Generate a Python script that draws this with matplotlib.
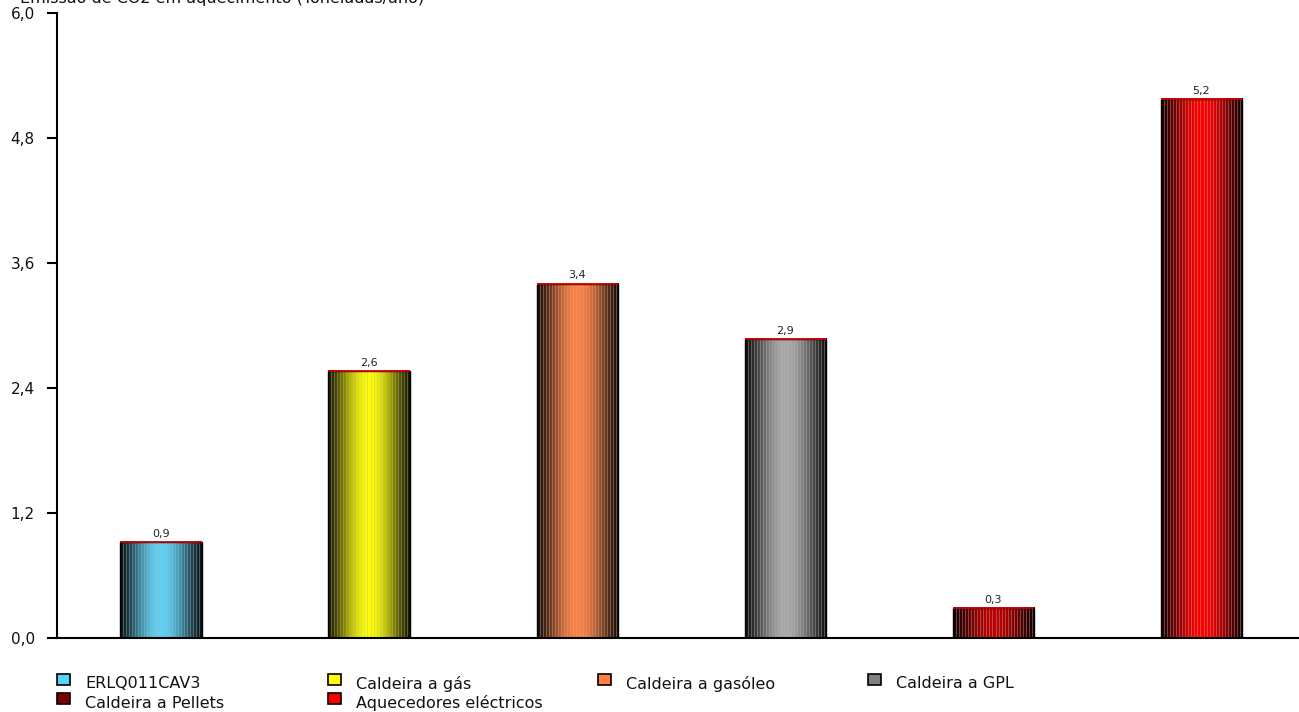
import numpy as np
import matplotlib
matplotlib.use("Agg")
import matplotlib.pyplot as plt
from matplotlib.patches import Rectangle
from matplotlib.colors import to_rgb
from matplotlib.ticker import FixedLocator, FuncFormatter

categories = ["ERLQ011CAV3", "Caldeira a gás", "Caldeira a gasóleo", "Caldeira a GPL",
              "Caldeira a Pellets", "Aquecedores eléctricos"]
values = [0.92, 2.56, 3.40, 2.87, 0.28, 5.17]
value_labels = ["0,9", "2,6", "3,4", "2,9", "0,3", "5,2"]
colors = ["#5BD2F7", "#FFFF00", "#FF8040", "#808080", "#800000", "#FF0000"]
center_colors = ["#5BD2F7", "#FFFF00", "#FF8040", "#A8A8A8", "#C00000", "#FF0000"]
yticks = [0.0, 1.2, 2.4, 3.6, 4.8, 6.0]
title = "Emissão de CO2 em aquecimento (Toneladas/ano)"

W, H = 1299, 712
fig = plt.figure(figsize=(W / 100, H / 100), dpi=100)
ax = fig.add_axes([57 / W, 1 - 637.5 / H, 1 - 57 / W, (637.5 - 13) / H])

bw = 0.39
ncols = 81
u = (np.arange(ncols) + 0.5) / ncols
shade = 0.10 + 0.90 * np.sin(np.pi * u) ** 1.4
for i, (v, c) in enumerate(zip(values, center_colors)):
    base = np.array(to_rgb(c))
    img = shade[:, None] * base[None, :]
    stripe = (np.arange(ncols) % 3 == 0)
    img[stripe] = img[stripe] * 0.6 + 0.4 * np.array([0.7, 0.7, 0.7])
    img = np.clip(img, 0, 1)[None, :, :]
    ax.imshow(img, extent=[i - bw / 2, i + bw / 2, 0, v], aspect="auto",
              interpolation="nearest", zorder=2)
    ax.add_patch(Rectangle((i - bw / 2, 0), bw, v, fill=False, edgecolor="black",
                           linewidth=1.0, zorder=3))
    ax.plot([i - bw / 2, i + bw / 2], [v, v], color="#E00000", linewidth=1.2,
            solid_capstyle="butt", zorder=4)
    ax.text(i, v + 0.03, value_labels[i], ha="center", va="bottom", fontsize=8,
            color="#222222", zorder=5)

ax.set_xlim(-0.5, 5.47)
ax.set_ylim(0, 6.0)
ax.yaxis.set_major_locator(FixedLocator(yticks))
ax.yaxis.set_major_formatter(FuncFormatter(lambda y, p: f"{y:.1f}".replace(".", ",")))
ax.set_xticks([])
for s in ["top", "right"]:
    ax.spines[s].set_visible(False)
ax.spines["left"].set_linewidth(1.5)
ax.spines["bottom"].set_linewidth(1.5)
ax.tick_params(axis="y", length=7, width=1.5, pad=9, labelsize=11, labelcolor="#111111")

fig.text(20 / W, 1 - 3 / H, title, ha="left", va="baseline", fontsize=11.5, color="#111111")

# legend (row-major, fixed column spacing)
col_x = [57, 328, 598, 868]
rows_y = [684, 703]
for k, (lab, c) in enumerate(zip(categories, colors)):
    r, cc = divmod(k, 4)
    x0 = col_x[cc]
    yc = rows_y[r]
    fig.patches.append(Rectangle((x0 / W, 1 - (yc + 1) / H), 13 / W, 11 / H,
                                 transform=fig.transFigure, facecolor=c,
                                 edgecolor="black", linewidth=1.2))
    fig.text((x0 + 28) / W, 1 - yc / H, lab, ha="left", va="center", fontsize=11.5,
             color="#111111")

fig.savefig("out.png", dpi=100)
